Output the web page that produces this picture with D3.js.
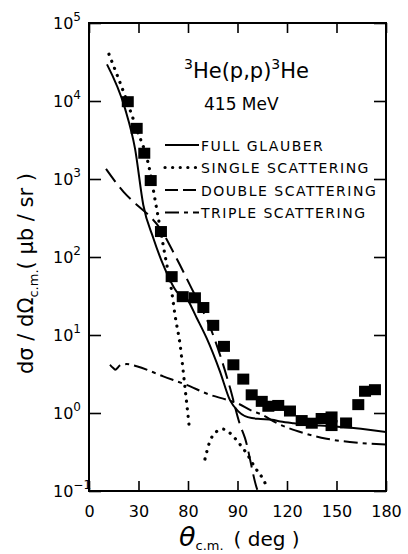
<!doctype html>
<html lang="en">
<head>
  <meta charset="utf-8">
  <title>3He(p,p)3He 415 MeV</title>
  <script src="https://cdn.jsdelivr.net/npm/d3@7"></script>
  <style>
    body { margin: 0; background: #fff; }
    svg text { font-family: "DejaVu Sans", sans-serif; fill: #000; }
  </style>
</head>
<body>
<svg id="chart" width="408" height="554"></svg>
<script>
  'use strict';

  // angle (deg) , d sigma / d omega (mb/sr)
  var dataPoints = [
    [23.5, 9800], [28.9, 4460], [33.5, 2140], [37.4, 955], [43.6, 212],
    [50.1, 56], [56.8, 31], [64.2, 30], [69.3, 22.5], [75.3, 13.3],
    [81.8, 7.15], [87.5, 4.15], [93.5, 2.72], [98.6, 1.71], [104.7, 1.41],
    [108.7, 1.22], [114.7, 1.25], [121.8, 1.06], [128.9, 0.8], [135, 0.74],
    [141, 0.85], [147, 0.89], [147, 0.69], [155.8, 0.745], [163.2, 1.28],
    [167.3, 1.9], [173.3, 1.99]
  ];

  var fullGlauber = [
    [10.9, 29500], [21.8, 8040], [27.9, 2450], [32.9, 465], [39, 174],
    [45, 79], [53.1, 36], [59.2, 29.5], [65.3, 16.5], [71.3, 9.1],
    [79.4, 3.4], [85.5, 1.45], [90.5, 1.05], [98.6, 0.86], [104, 0.84],
    [111, 0.82], [116, 0.78], [124, 0.74], [140, 0.69], [154, 0.66], [180, 0.57]
  ];

  var singleA = [
    [12.1, 39800], [22.8, 10200], [29, 4300], [35.9, 1585], [41, 417],
    [46, 107], [50.1, 36.3], [52.1, 18.2], [55.2, 7.5], [58.2, 2.09], [60.7, 0.68]
  ];
  var singleB = [
    [70.3, 0.257], [72.7, 0.4], [77.4, 0.58], [81.4, 0.62], [85.5, 0.55],
    [90.9, 0.41], [96.6, 0.28], [100.6, 0.2], [105, 0.148], [107.7, 0.115]
  ];

  var doubleSc = [
    [10.3, 1350], [20.8, 690], [28.9, 468], [36, 347], [43, 234],
    [53.1, 95.5], [61.2, 43.6], [74.4, 11.1], [79.4, 5.57], [85.5, 2.09],
    [91.5, 0.71], [94.5, 0.48], [101.6, 0.11], [103, 0.09]
  ];

  var tripleSc = [
    [12.7, 4.15], [14.7, 3.77], [15.8, 3.59], [18.8, 4.07], [22.8, 4.24],
    [28.9, 3.98], [45, 2.95], [59.2, 2.29], [73.3, 1.71], [83.4, 1.48],
    [90, 1.33], [98.6, 1.07], [104.7, 0.955], [113.7, 0.745], [129.9, 0.555],
    [144, 0.468], [164, 0.413], [180, 0.393]
  ];

  var xTicks = [0, 30, 60, 90, 120, 150, 180];
  var xTickLabels = ["0", "30", "80", "90", "120", "150", "180"];
  var yExponents = [-1, 0, 1, 2, 3, 4, 5];
  var legendNames = ["FULL GLAUBER", "SINGLE SCATTERING", "DOUBLE SCATTERING", "TRIPLE SCATTERING"];

  var LEFT = 89, RIGHT = 386, TOP = 23, BOTTOM = 491;

  var svg = d3.select("#chart");

  var x = d3.scaleLinear().domain([0, 180]).range([LEFT, RIGHT]);
  var y = d3.scaleLog().domain([0.1, 1e5]).range([BOTTOM, TOP]);

  svg.append("clipPath").attr("id", "plotclip")
    .append("rect").attr("x", LEFT).attr("y", TOP)
    .attr("width", RIGHT - LEFT).attr("height", BOTTOM - TOP);

  // axes, ticks pointing inward
  var bottomAxis = svg.append("g")
    .attr("transform", "translate(0," + BOTTOM + ")")
    .call(d3.axisBottom(x).tickValues(xTicks).tickSize(-10).tickPadding(15)
      .tickFormat(function(d, i){ return xTickLabels[i]; }));
  bottomAxis.selectAll("text").style("font-size", "16px").attr("fill", "#000");

  svg.append("g")
    .attr("transform", "translate(0," + TOP + ")")
    .call(d3.axisTop(x).tickValues(xTicks).tickSize(-10).tickFormat(""));

  var decades = yExponents.map(function(e){ return Math.pow(10, e); });
  svg.append("g")
    .attr("transform", "translate(" + LEFT + ",0)")
    .call(d3.axisLeft(y).tickValues(decades).tickSize(-12).tickFormat(""));
  svg.append("g")
    .attr("transform", "translate(" + RIGHT + ",0)")
    .call(d3.axisRight(y).tickValues(decades).tickSize(-12).tickFormat(""));

  svg.selectAll(".domain").remove();
  svg.selectAll(".tick line").attr("stroke", "#000").attr("stroke-width", 1.6);

  // y tick labels 10^n
  var ylab = svg.append("g").selectAll("text").data(yExponents).enter().append("text")
    .attr("x", 53)
    .attr("y", function(d){ return y(Math.pow(10, d)) + 6; })
    .style("font-size", "16px");
  ylab.append("tspan").text("10");
  ylab.append("tspan").attr("dy", -8).style("font-size", "12px")
    .text(function(d){ return d < 0 ? "\u2212" + (-d) : d; });

  // frame
  svg.append("rect").attr("x", LEFT).attr("y", TOP)
    .attr("width", RIGHT - LEFT).attr("height", BOTTOM - TOP)
    .attr("fill", "none").attr("stroke", "#000").attr("stroke-width", 2);

  var line = d3.line()
    .x(function(d){ return x(d[0]); })
    .y(function(d){ return y(d[1]); })
    .curve(d3.curveMonotoneX);

  var styles = [
    { w: 2, dash: null, cap: "butt" },
    { w: 3.2, dash: "0.1 7.5", cap: "round" },
    { w: 2, dash: "16 7", cap: "butt" },
    { w: 2, dash: "14 5 4 5", cap: "butt" }
  ];

  var curves = svg.append("g").attr("clip-path", "url(#plotclip)");
  function drawCurve(data, st) {
    curves.append("path").datum(data).attr("d", line)
      .attr("fill", "none").attr("stroke", "#000")
      .attr("stroke-width", st.w).attr("stroke-linecap", st.cap)
      .attr("stroke-dasharray", st.dash);
  }
  drawCurve(fullGlauber, styles[0]);
  drawCurve(singleA, styles[1]);
  drawCurve(singleB, styles[1]);
  drawCurve(doubleSc, styles[2]);
  drawCurve(tripleSc, styles[3]);

  // data squares
  svg.append("g").selectAll("rect").data(dataPoints).enter().append("rect")
    .attr("x", function(d){ return x(d[0]) - 6; })
    .attr("y", function(d){ return y(d[1]) - 5.5; })
    .attr("width", 12).attr("height", 11).attr("fill", "#000");

  // legend
  var leg = svg.append("g").selectAll("g").data(legendNames).enter().append("g")
    .attr("transform", function(d, i){ return "translate(165," + (145 + i * 22.5) + ")"; });
  leg.append("line").attr("x1", 0).attr("x2", 34).attr("y1", 0).attr("y2", 0)
    .attr("stroke", "#000")
    .attr("stroke-width", function(d, i){ return styles[i].w; })
    .attr("stroke-linecap", function(d, i){ return styles[i].cap; })
    .attr("stroke-dasharray", function(d, i){ return i === 2 ? "13 5" : styles[i].dash; });
  leg.append("text").attr("x", 36).attr("y", 5.5)
    .style("font-size", "14px").style("letter-spacing", "1.5px")
    .text(function(d){ return d; });

  // title
  var t1 = svg.append("text").attr("x", 184).attr("y", 78).style("font-size", "21px");
  t1.append("tspan").attr("dy", -9).style("font-size", "14px").text("3");
  t1.append("tspan").attr("dy", 9).text("He(p,p)");
  t1.append("tspan").attr("dy", -9).style("font-size", "14px").text("3");
  t1.append("tspan").attr("dy", 9).text("He");
  svg.append("text").attr("x", 204).attr("y", 110).style("font-size", "17px").text("415 MeV");

  // x axis title
  var xt = svg.append("text").attr("x", 179).attr("y", 546).style("font-size", "27px");
  xt.append("tspan").style("font-style", "italic").text("\u03b8");
  xt.append("tspan").attr("dy", 4).style("font-size", "13px").text("c.m.");
  xt.append("tspan").attr("dy", -4).attr("dx", 10).style("font-size", "20px").text("( deg )");

  // y axis title
  var yt = svg.append("text")
    .attr("transform", "translate(33,374) rotate(-90)")
    .style("font-size", "21px");
  yt.append("tspan").text("d\u03c3 / d\u03a9");
  yt.append("tspan").attr("dy", 5).style("font-size", "13px").text("c.m.");
  yt.append("tspan").attr("dy", -5).text("( \u03bcb / sr )");
</script>
</body>
</html>
